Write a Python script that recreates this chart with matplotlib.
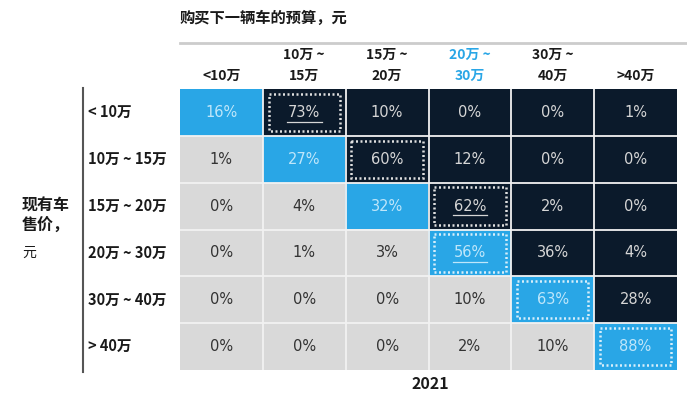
import numpy as np
import matplotlib.pyplot as plt
from matplotlib.colors import ListedColormap
from matplotlib.patches import Rectangle

plt.rcParams['font.family'] = ['Noto Sans CJK SC', 'DejaVu Sans']

# Data
col_labels = ['<10万', '10万 ~\n15万', '15万 ~\n20万', '20万 ~\n30万', '30万 ~\n40万', '>40万']
row_labels = ['< 10万', '10万 ~ 15万', '15万 ~ 20万', '20万 ~ 30万', '30万 ~ 40万', '> 40万']
values = np.array([
    [16, 73, 10, 0, 0, 1],
    [1, 27, 60, 12, 0, 0],
    [0, 4, 32, 62, 2, 0],
    [0, 1, 3, 56, 36, 4],
    [0, 0, 0, 10, 63, 28],
    [0, 0, 0, 2, 10, 88],
])
boxed = [(0, 1), (1, 2), (2, 3), (3, 3), (4, 4), (5, 5)]
underlined = [(0, 1), (2, 3), (3, 3)]
highlight_col = 3

GRAY = '#d9d9d9'
BLUE = '#29a6e6'
DARK = '#0b1a2b'

n = len(row_labels)
ii, jj = np.indices(values.shape)
cat = np.where(jj > ii, 2, np.where(jj == ii, 1, 0))

fig = plt.figure(figsize=(6.87, 3.97), dpi=100)
W, H = 687, 397
ax = fig.add_axes([180 / W, 1 - 370 / H, 497 / W, 281 / H])
ax.imshow(cat, cmap=ListedColormap([GRAY, BLUE, DARK]), vmin=0, vmax=2, aspect='auto')
for k in range(1, n):
    ax.axhline(k - 0.5, color='#f2f2f2', lw=1.3)
    ax.axvline(k - 0.5, color='#f2f2f2', lw=1.3)
ax.set_xlim(-0.5, n - 0.5)
ax.set_ylim(n - 0.5, -0.5)
ax.set_xticks([])
ax.set_yticks([])
for s in ax.spines.values():
    s.set_visible(False)

txt_col = {0: '#333333', 1: '#bfe6fa', 2: '#d6d6d6'}
for i in range(n):
    for j in range(n):
        ax.text(j, i, f'{values[i, j]}%', ha='center', va='center',
                fontsize=10.5, color=txt_col[cat[i, j]], family='DejaVu Sans')
        if (i, j) in underlined:
            ax.plot([j - 0.21, j + 0.21], [i + 0.2, i + 0.2], color=txt_col[cat[i, j]], lw=0.9)
for (i, j) in boxed:
    dc = '#d8eefa' if cat[i, j] == 1 else '#e0e0e0'
    ax.add_patch(Rectangle((j - 0.43, i - 0.40), 0.86, 0.80, fill=False,
                           edgecolor=dc, lw=1.8, linestyle=(0, (0.8, 1.0))))

# column headers
for j, lab in enumerate(col_labels):
    x = (180 + 82.8 * (j + 0.5)) / W
    fig.text(x, 1 - 83 / H, lab, ha='center', va='bottom', fontsize=10, fontweight='bold',
             color=BLUE if j == highlight_col else '#1a1a1a', linespacing=1.6)

# row labels
for i, lab in enumerate(row_labels):
    y = 1 - (89 + 46.8 * (i + 0.5)) / H
    fig.text(88 / W, y, lab, ha='left', va='center', fontsize=10.5, fontweight='bold', color='#1a1a1a')

fig.add_artist(plt.Line2D([83 / W, 83 / W], [1 - 88 / H, 1 - 372 / H], color='#555555', lw=1.5))
fig.add_artist(plt.Line2D([180 / W, 1.0], [1 - 43 / H, 1 - 43 / H], color='#cccccc', lw=2))

fig.text(180 / W, 1 - 18 / H, '购买下一辆车的预算，元', ha='left', va='center', fontsize=11,
         fontweight='bold', color='#1a1a1a')
fig.text(22 / W, 1 - 215 / H, '现有车\n售价，', ha='left', va='center', fontsize=11.5,
         fontweight='bold', color='#1a1a1a', linespacing=1.25)
fig.text(22 / W, 1 - 253 / H, '元', ha='left', va='center', fontsize=10, color='#1a1a1a')
fig.text(430 / W, 1 - 384 / H, '2021', ha='center', va='center', fontsize=11.5,
         fontweight='bold', color='#1a1a1a')

fig.savefig('out.png', dpi=100)
